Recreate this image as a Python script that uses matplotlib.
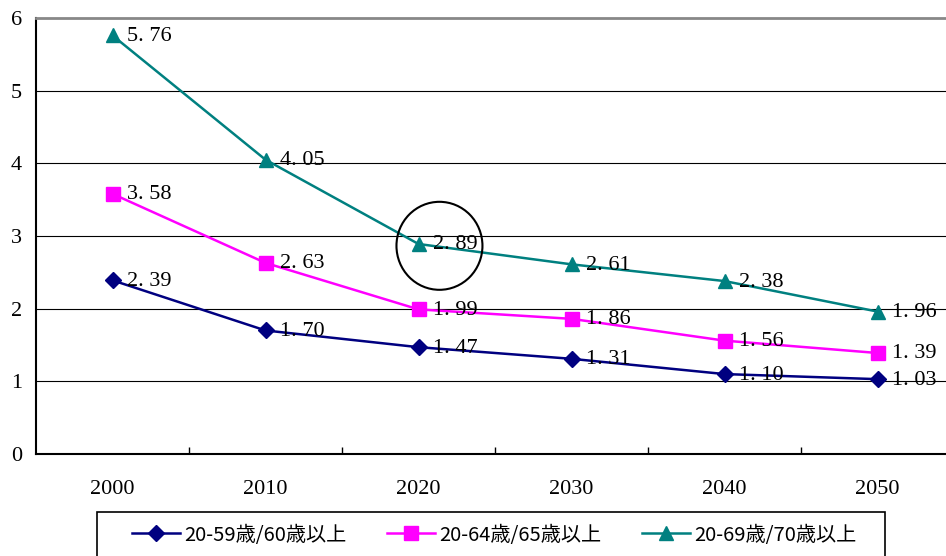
import matplotlib
matplotlib.use("Agg")
import matplotlib.pyplot as plt
from matplotlib.patches import Ellipse, Rectangle
from matplotlib.ticker import FixedLocator

years = ["2000", "2010", "2020", "2030", "2040", "2050"]
ratio_60 = [2.39, 1.70, 1.47, 1.31, 1.10, 1.03]
ratio_65 = [3.58, 2.63, 1.99, 1.86, 1.56, 1.39]
ratio_70 = [5.76, 4.05, 2.89, 2.61, 2.38, 1.96]
series_names = ["20-59歳/60歳以上", "20-64歳/65歳以上", "20-69歳/70歳以上"]
y_ticks = [0, 1, 2, 3, 4, 5, 6]

W, H = 946, 556
fig = plt.figure(figsize=(W / 100, H / 100), dpi=100)
ax = fig.add_axes([36 / W, 102 / H, 918 / W, 436 / H])

serif = ["Liberation Serif", "DejaVu Serif"]
cjk = ["Noto Sans CJK JP", "DejaVu Sans"]

x = list(range(len(years)))
styles = [
    (ratio_60, "#000080", "D", 8.5),
    (ratio_65, "#FF00FF", "s", 10),
    (ratio_70, "#008080", "^", 10.5),
]
handles = []
for (vals, color, marker, ms), name in zip(styles, series_names):
    h, = ax.plot(x, vals, color=color, lw=1.8, marker=marker, ms=ms,
                 markeredgecolor=color, markerfacecolor=color, label=name,
                 zorder=3, clip_on=False)
    handles.append(h)
    for xi, v in zip(x, vals):
        ax.annotate(f"{v:.2f}".replace(".", ". "), (xi, v),
                    xytext=(14, -1), textcoords="offset pixels",
                    ha="left", va="center", fontsize=16, family=serif,
                    color="black", zorder=4)

# highlight around the 2020 value
ax.add_patch(Ellipse((2.137, 2.865), 0.562, 1.211, fill=False,
                     edgecolor="black", lw=1.5, zorder=5))

ax.set_xlim(-0.5, 5.5)
ax.set_ylim(0, 6)
ax.set_yticks(y_ticks)
ax.set_yticklabels([str(t) for t in y_ticks], family=serif, fontsize=16)
ax.tick_params(axis="y", length=0, pad=10)
ax.set_xticks(x)
ax.set_xticklabels(years, family=serif, fontsize=16)
ax.tick_params(axis="x", which="major", length=0, pad=19)
ax.xaxis.set_minor_locator(FixedLocator([0.5, 1.5, 2.5, 3.5, 4.5]))
ax.tick_params(axis="x", which="minor", direction="in", length=5,
               width=1, color="black")

for y in y_ticks[1:-1]:
    ax.axhline(y, color="black", lw=0.8, zorder=1)

ax.spines["right"].set_visible(False)
ax.spines["top"].set_color("#888888")
ax.spines["top"].set_linewidth(2)
for s in ("left", "bottom"):
    ax.spines[s].set_color("black")
    ax.spines[s].set_linewidth(1.5)

# legend box running off the bottom edge
fig.patches.append(Rectangle((97 / W, -0.05), (885 - 97) / W, 0.05 + 44 / H,
                             transform=fig.transFigure, fill=False,
                             edgecolor="black", lw=1.2))
fig.legend(handles=handles, labels=series_names, loc="center",
           bbox_to_anchor=(494 / W, 21 / H), ncol=3, frameon=False,
           prop={"family": cjk, "size": 14.5}, handlelength=2.4,
           handletextpad=0.2, columnspacing=2.0)

fig.savefig("out.png", dpi=100)
